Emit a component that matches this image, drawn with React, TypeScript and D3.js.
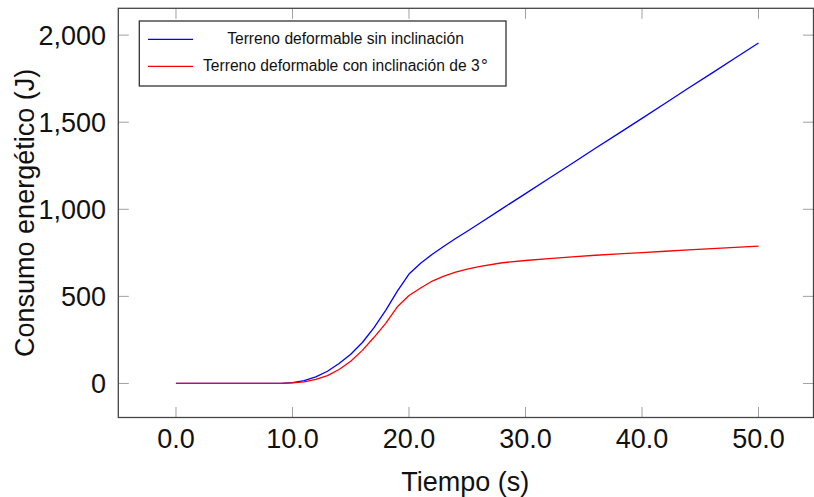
import React, { useRef, useEffect } from "react";
import * as d3 from "d3";

// tiempo (s)
const tiempo = [0, 2, 4, 6, 8, 9, 10, 11, 12, 13, 14, 15, 16, 17, 18, 19, 20, 21, 22, 23, 24, 25, 26, 28, 30, 32, 34, 36, 38, 40, 42, 44, 46, 48, 50];
// consumo energetico (J)
const sinInclinacion = [0, 0, 0, 0, 0, 1, 5, 16, 38, 70, 115, 168, 235, 320, 420, 530, 628, 690, 742, 788, 832, 874, 917, 1004, 1090, 1177, 1263, 1350, 1436, 1522, 1609, 1696, 1782, 1869, 1955];
const conInclinacion = [0, 0, 0, 0, 0, 0, 3, 9, 24, 45, 80, 128, 190, 265, 345, 440, 505, 548, 588, 616, 639, 657, 671, 693, 706, 717, 727, 736, 744, 751, 759, 767, 774, 781, 788];

const xTicks = [0, 10, 20, 30, 40, 50];
const yTicks = [0, 500, 1000, 1500, 2000];

const series = [
  { name: "Terreno deformable sin inclinación", values: sinInclinacion, color: "#0000ff" },
  { name: "Terreno deformable con inclinación de 3", values: conInclinacion, color: "#ff0000", deg: true },
];

const App = () => {
  const ref = useRef<SVGSVGElement>(null);

  useEffect(() => {
    const width = 814;
    const height = 497;
    const left = 118.3;
    const right = 813.5;
    const top = 8.3;
    const bottom = 417.5;
    const font = "'Liberation Sans', Arial, sans-serif";

    const x = d3.scaleLinear().domain([-4.95, 54.72]).range([left, right]);
    const y = d3.scaleLinear().domain([-195.5, 2154]).range([bottom, top]);

    const svg = d3.select(ref.current);
    svg.selectAll("*").remove();
    svg.attr("width", width).attr("height", height).attr("viewBox", `0 0 ${width} ${height}`);

    svg.append("rect").attr("width", width).attr("height", height).attr("fill", "white");

    // ticks (inside, both sides)
    const tickLen = 10.5;
    const tk = svg.append("g").attr("stroke", "#a0a0a0").attr("stroke-width", 1);
    xTicks.forEach((t) => {
      tk.append("line").attr("x1", x(t)).attr("x2", x(t)).attr("y1", bottom).attr("y2", bottom - tickLen);
      tk.append("line").attr("x1", x(t)).attr("x2", x(t)).attr("y1", top).attr("y2", top + tickLen);
    });
    yTicks.forEach((v) => {
      tk.append("line").attr("x1", left).attr("x2", left + tickLen).attr("y1", y(v)).attr("y2", y(v));
      tk.append("line").attr("x1", right).attr("x2", right - tickLen).attr("y1", y(v)).attr("y2", y(v));
    });

    // lineas
    const line = d3
      .line<number>()
      .x((_, i) => x(tiempo[i]))
      .y((d) => y(d));

    series.forEach((s) => {
      svg
        .append("path")
        .datum(s.values)
        .attr("fill", "none")
        .attr("stroke", s.color)
        .attr("stroke-width", 1.3)
        .attr("stroke-linejoin", "round")
        .attr("d", line);
    });

    // marco
    svg
      .append("rect")
      .attr("x", left)
      .attr("y", top)
      .attr("width", right - left)
      .attr("height", bottom - top)
      .attr("fill", "none")
      .attr("stroke", "#454545")
      .attr("stroke-width", 1.3);

    // etiquetas de ticks
    const fmtY = d3.format(",");
    svg
      .append("g")
      .selectAll("text")
      .data(xTicks)
      .join("text")
      .attr("x", (d) => x(d))
      .attr("y", 448)
      .attr("text-anchor", "middle")
      .attr("font-family", font)
      .attr("font-size", 27)
      .attr("fill", "#111")
      .text((d) => d.toFixed(1));

    svg
      .append("g")
      .selectAll("text")
      .data(yTicks)
      .join("text")
      .attr("x", 106)
      .attr("y", (d) => y(d) + 9.6)
      .attr("text-anchor", "end")
      .attr("font-family", font)
      .attr("font-size", 27)
      .attr("fill", "#111")
      .text((d) => fmtY(d));

    // titulos de ejes
    svg
      .append("text")
      .attr("x", (left + 812) / 2)
      .attr("y", 490.5)
      .attr("text-anchor", "middle")
      .attr("font-family", font)
      .attr("font-size", 27)
      .attr("fill", "#111")
      .text("Tiempo (s)");

    svg
      .append("text")
      .attr("transform", `translate(33.5,${(top + bottom) / 2}) rotate(-90)`)
      .attr("text-anchor", "middle")
      .attr("font-family", font)
      .attr("font-size", 27)
      .attr("fill", "#111")
      .text("Consumo energético (J)");

    // leyenda
    const lg = svg.append("g");
    lg.append("rect")
      .attr("x", 139.3)
      .attr("y", 21)
      .attr("width", 366.7)
      .attr("height", 65)
      .attr("fill", "white")
      .attr("stroke", "#333")
      .attr("stroke-width", 1.3);

    series.forEach((s, i) => {
      const cy = 39.3 + i * 27;
      lg.append("line")
        .attr("x1", 148)
        .attr("x2", 193)
        .attr("y1", cy)
        .attr("y2", cy)
        .attr("stroke", s.color)
        .attr("stroke-width", 1.3);
      const t = lg
        .append("text")
        .attr("x", 345.5)
        .attr("y", cy + 4.3)
        .attr("text-anchor", "middle")
        .attr("font-family", font)
        .attr("font-size", 15.6)
        .attr("fill", "#111")
        .text(s.name);
      if (s.deg) {
        t.append("tspan").attr("font-size", 17).attr("dx", 1.5).text("°");
      }
    });
  }, []);

  return <svg ref={ref} style={{ position: "absolute", left: 0, top: 0 }} />;
};

export default App;
